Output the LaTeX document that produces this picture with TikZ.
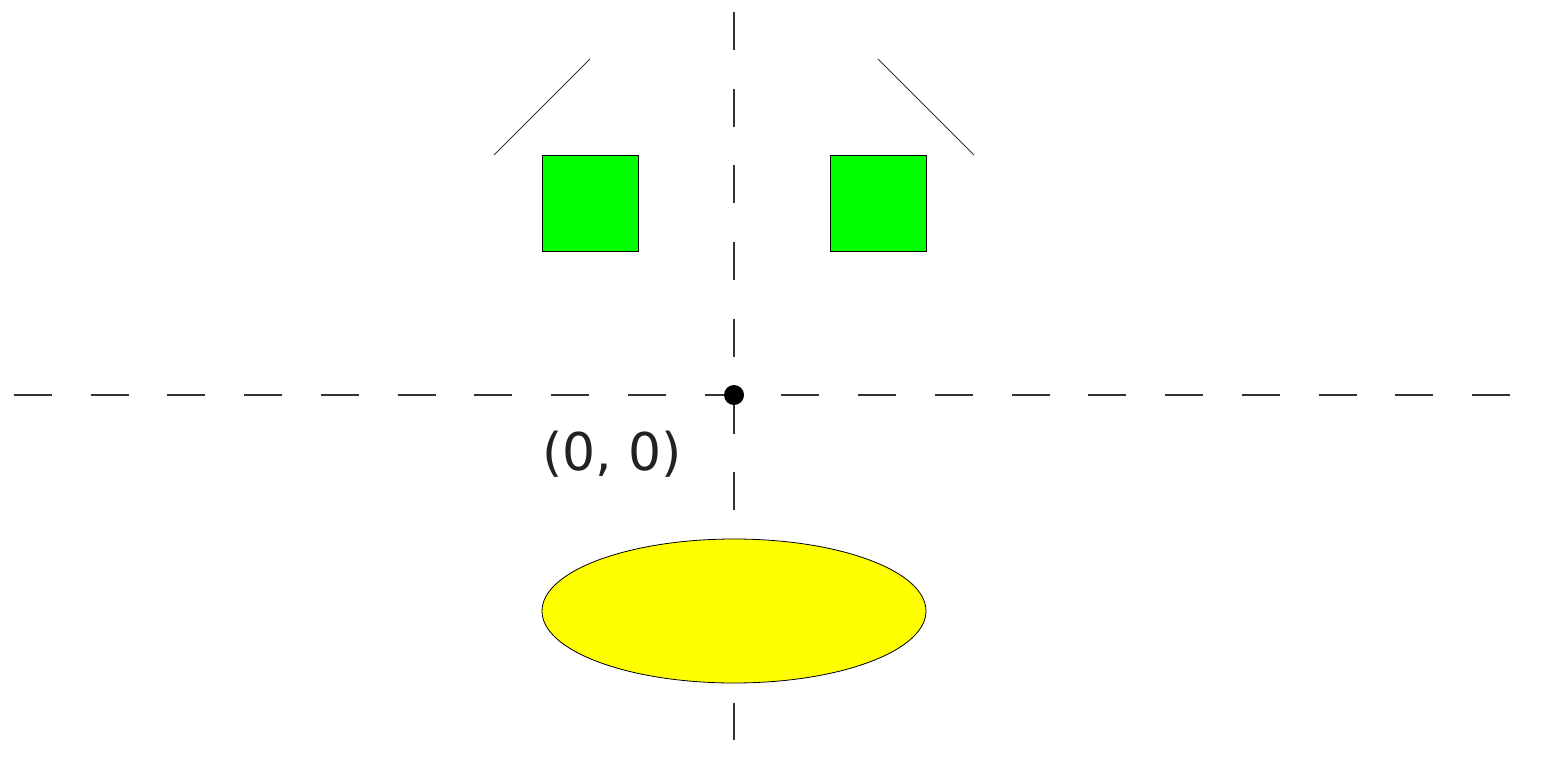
\documentclass[tikz,border=0pt]{standalone}
\usepackage{fontspec}
\newfontfamily\labelfont{DejaVu Sans}
\usetikzlibrary{shapes.geometric}
\definecolor{greenfill}{HTML}{00FF00}
\definecolor{yellowfill}{HTML}{FFFF00}
\definecolor{axisgray}{HTML}{333333}
\definecolor{labelgray}{HTML}{222222}
\begin{document}
\begin{tikzpicture}[x=1pt,y=-1pt,
  axis/.style={draw=axisgray,line width=1.3pt,dash pattern=on 38pt off 38.74pt},
  window/.style={draw=black,line width=0.9pt,fill=greenfill,minimum width=96pt,minimum height=96pt,inner sep=0pt,anchor=north west},
  roof/.style={draw=axisgray,line width=1pt},
  mouth/.style={ellipse,draw=black,line width=0.8pt,fill=yellowfill,minimum width=384pt,minimum height=144pt,inner sep=0pt},
  origin/.style={circle,fill=black,minimum size=20pt,inner sep=0pt},
  lbl/.style={text=labelgray,font=\labelfont\fontsize{52}{60}\selectfont,inner sep=0pt}]
\useasboundingbox (0,0) rectangle (1545,776);
\coordinate (vtop) at (734,12);
\coordinate (vbot) at (734,740);
\coordinate (hleft) at (14,395);
\coordinate (hright) at (1510,395);
\draw[axis] (hleft) -- (hright);
\draw[axis] (vtop) -- (vbot);
\node[window] (wl) at (542,155) {};
\node[window] (wr) at (830,155) {};
\coordinate (rl1) at (494,155);
\coordinate (rl2) at (590,59);
\coordinate (rr1) at (878,59);
\coordinate (rr2) at (974,155);
\draw[roof] (rl1) -- (rl2);
\draw[roof] (rr1) -- (rr2);
\node[mouth] (m) at (734,611) {};
\node[origin] (o) at (734,395) {};
\node[lbl] (ol) at (612,454) {(0, 0)};
\end{tikzpicture}
\end{document}
